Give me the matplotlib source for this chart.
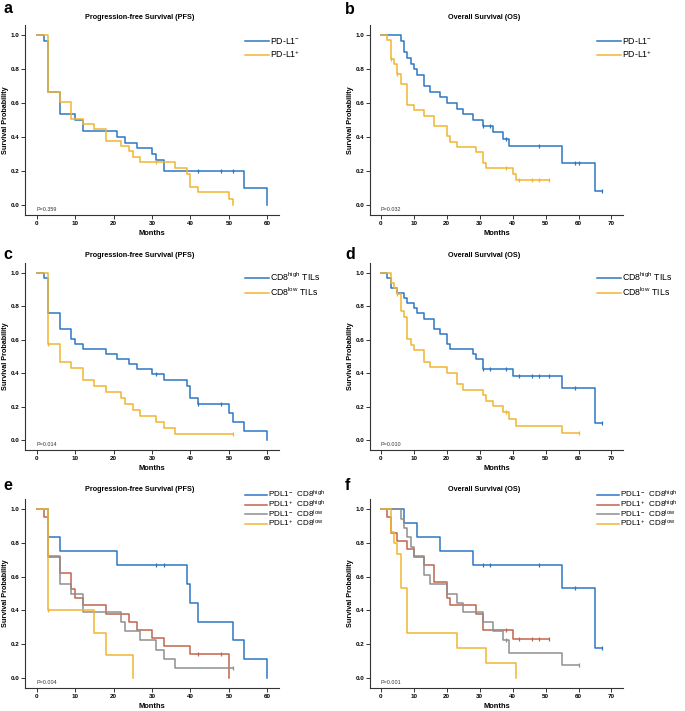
import numpy as np
import matplotlib
matplotlib.use("Agg")
import matplotlib.pyplot as plt

plt.rcParams["font.family"] = ["Liberation Sans", "DejaVu Sans"]
plt.rcParams["mathtext.fontset"] = "custom"
plt.rcParams["mathtext.rm"] = "Liberation Sans"
plt.rcParams["mathtext.it"] = "Liberation Sans:italic"
plt.rcParams["mathtext.bf"] = "Liberation Sans:bold"
plt.rcParams["mathtext.default"] = "regular"

BLUE = "#2c76c2"
ORANGE = "#f0b532"
RED = "#c1644c"
GRAY = "#8f8f8f"

# ---- a: PFS by PD-L1 ----
a_neg_t = [2, 3, 6, 10, 12, 21, 23, 26, 30, 31, 33, 54, 60]
a_neg_s = [0.967, 0.667, 0.533, 0.5, 0.433, 0.4, 0.367, 0.333, 0.3, 0.267, 0.2, 0.1, 0.0]
a_neg_c = [42, 48, 51]
a_neg_end = 60
a_pos_t = [3, 6, 9, 12, 15, 18, 22, 24, 25, 27, 36, 39, 40, 42, 50, 51]
a_pos_s = [0.667, 0.604, 0.506, 0.475, 0.445, 0.378, 0.347, 0.32, 0.284, 0.251, 0.216, 0.18, 0.108, 0.073, 0.035, 0.0]
a_pos_c = [31]
a_pos_end = 51

# ---- b: OS by PD-L1 ----
b_neg_t = [6, 7, 8, 9, 10, 11, 13, 15, 18, 20, 23, 25, 28, 31, 34, 37, 39, 55, 65]
b_neg_s = [0.967, 0.9, 0.867, 0.833, 0.8, 0.767, 0.7, 0.667, 0.633, 0.6, 0.567, 0.533, 0.5, 0.467, 0.428, 0.389, 0.346, 0.247, 0.082]
b_neg_c = [31, 33, 38, 48, 59, 60, 67]
b_neg_end = 67
b_pos_t = [2, 3, 4, 5, 6, 8, 10, 13, 16, 20, 21, 23, 29, 31, 32, 40, 41]
b_pos_s = [0.971, 0.857, 0.829, 0.771, 0.714, 0.588, 0.559, 0.525, 0.465, 0.404, 0.37, 0.343, 0.31, 0.247, 0.216, 0.18, 0.145]
b_pos_c = [3, 5, 38, 42, 46, 48, 51]
b_pos_end = 51

# ---- c: PFS by CD8 ----
c_hi_t = [2, 3, 6, 9, 10, 12, 18, 21, 24, 26, 30, 33, 39, 40, 42, 50, 51, 54, 60]
c_hi_s = [0.97, 0.758, 0.667, 0.606, 0.576, 0.545, 0.515, 0.485, 0.455, 0.424, 0.394, 0.362, 0.326, 0.253, 0.217, 0.163, 0.108, 0.054, 0.0]
c_hi_c = [31, 42, 48]
c_hi_end = 60
c_lo_t = [3, 6, 9, 12, 15, 18, 22, 23, 25, 27, 31, 33, 36]
c_lo_s = [0.576, 0.47, 0.432, 0.362, 0.325, 0.289, 0.253, 0.217, 0.18, 0.144, 0.108, 0.072, 0.036]
c_lo_c = [3, 51]
c_lo_end = 51

# ---- d: OS by CD8 ----
d_hi_t = [2, 3, 5, 7, 8, 10, 11, 13, 16, 18, 20, 21, 28, 29, 31, 40, 55, 65]
d_hi_s = [0.97, 0.909, 0.879, 0.848, 0.818, 0.788, 0.758, 0.727, 0.667, 0.636, 0.576, 0.545, 0.515, 0.485, 0.424, 0.386, 0.309, 0.103]
d_hi_c = [31, 33, 38, 42, 46, 48, 51, 59, 67]
d_hi_end = 67
d_lo_t = [3, 4, 5, 6, 7, 8, 9, 10, 13, 15, 20, 23, 25, 31, 32, 34, 37, 39, 41, 55]
d_lo_s = [0.941, 0.912, 0.876, 0.773, 0.739, 0.604, 0.571, 0.537, 0.47, 0.436, 0.403, 0.336, 0.302, 0.269, 0.235, 0.201, 0.168, 0.126, 0.084, 0.042]
d_lo_c = [5, 38, 60]
d_lo_end = 60

# ---- e: PFS by PD-L1 / CD8 combination ----
e_nh_t = [3, 6, 21, 39, 40, 42, 51, 54, 60]
e_nh_s = [0.833, 0.75, 0.667, 0.556, 0.444, 0.333, 0.222, 0.111, 0.0]
e_nh_c = [31, 33]
e_nh_end = 60
e_ph_t = [2, 3, 6, 9, 10, 12, 18, 24, 26, 30, 33, 40, 50]
e_ph_s = [0.952, 0.714, 0.619, 0.524, 0.476, 0.429, 0.381, 0.333, 0.286, 0.238, 0.19, 0.143, 0.0]
e_ph_c = [42, 48]
e_ph_end = 50
e_nl_t = [3, 6, 9, 12, 22, 23, 27, 31, 33, 36]
e_nl_s = [0.722, 0.556, 0.5, 0.389, 0.333, 0.278, 0.222, 0.167, 0.111, 0.056]
e_nl_c = [51]
e_nl_end = 51
e_pl_t = [3, 15, 18, 25]
e_pl_s = [0.4, 0.267, 0.133, 0.0]
e_pl_c = [3]
e_pl_end = 25

# ---- f: OS by PD-L1 / CD8 combination ----
f_nh_t = [7, 11, 18, 28, 55, 65]
f_nh_s = [0.917, 0.833, 0.75, 0.667, 0.533, 0.178]
f_nh_c = [31, 33, 48, 59, 67]
f_nh_end = 67
f_ph_t = [2, 3, 5, 8, 10, 13, 16, 20, 21, 29, 31, 40]
f_ph_s = [0.952, 0.857, 0.81, 0.762, 0.714, 0.667, 0.571, 0.476, 0.429, 0.381, 0.286, 0.229]
f_ph_c = [38, 42, 46, 48, 51]
f_ph_end = 51
f_nl_t = [6, 7, 8, 9, 10, 13, 15, 20, 23, 25, 31, 34, 37, 39, 55]
f_nl_s = [0.944, 0.889, 0.833, 0.778, 0.722, 0.611, 0.556, 0.5, 0.444, 0.389, 0.333, 0.278, 0.222, 0.148, 0.074]
f_nl_c = [38, 60]
f_nl_end = 60
f_pl_t = [3, 4, 5, 6, 8, 23, 32, 41]
f_pl_s = [0.867, 0.8, 0.733, 0.533, 0.267, 0.178, 0.089, 0.0]
f_pl_c = []
f_pl_end = 41

pd_labels = [r"PD-L1$^{-}$", r"PD-L1$^{+}$"]
cd8_labels = [r"CD8$^{high}$ TILs", r"CD8$^{low}$ TILs"]
combo_labels = [r"PDL1$^{-}$  CD8$^{high}$", r"PDL1$^{+}$  CD8$^{high}$",
                r"PDL1$^{-}$  CD8$^{low}$", r"PDL1$^{+}$  CD8$^{low}$"]
p_values = ["P=0.359", "P=0.032", "P=0.014", "P=0.010", "P=0.004", "P=0.001"]

W, H = 685, 711


def px_rect(l, t, r, b):
    return [l / W, 1 - b / H, (r - l) / W, (b - t) / H]


def km(ax, t, s, cens, end, color, label):
    x = [0] + list(t) + [end]
    y = [1.0] + list(s) + [s[-1]]
    ax.step(x, y, where="post", color=color, lw=1.1, label=label)
    if len(cens):
        idx = np.searchsorted(t, cens, side="right") - 1
        cy = [s[i] if i >= 0 else 1.0 for i in idx]
        ax.plot(cens, cy, ls="none", marker="|", ms=3.4, mew=0.9, color=color)


def style(ax, title, xmax, pval, title_y=1.02, xpad=3.5):
    ax.set_xlim(-3, 63) if xmax == 60 else ax.set_xlim(-3.3, 73.5)
    ax.set_ylim(-0.06, 1.06)
    ax.set_xticks(np.arange(0, xmax + 1, 10))
    ax.set_yticks(np.arange(0, 1.01, 0.2))
    ax.yaxis.set_major_formatter(plt.FormatStrFormatter("%.1f"))
    for sp in ["top", "right"]:
        ax.spines[sp].set_visible(False)
    for sp in ["left", "bottom"]:
        ax.spines[sp].set_linewidth(0.8)
        ax.spines[sp].set_color("#333333")
    ax.tick_params(length=3, width=0.7, pad=1, labelsize=4.5, color="#333333")
    plt.setp(ax.get_xticklabels() + ax.get_yticklabels(), fontweight="bold")
    ax.text(0.45, title_y, title, transform=ax.transAxes, ha="center", va="bottom",
            fontsize=5.2, fontweight="bold")
    ax.set_xlabel("Months", fontsize=5.4, fontweight="bold", labelpad=xpad)
    ax.set_ylabel("Survival Probability", fontsize=5.2, fontweight="bold")
    ax.yaxis.set_label_coords(-0.064, 0.5)
    ax.text(0, -0.025, pval, fontsize=3.9, va="center", color="#333333")


def legend(ax, x_px, y_px, fs, spacing):
    ax.legend(loc="upper left", bbox_to_anchor=(x_px / W, 1 - y_px / H),
              bbox_transform=fig.transFigure, frameon=False, fontsize=fs,
              handlelength=2.7, handletextpad=0.15, borderpad=0, borderaxespad=0,
              labelspacing=spacing)


fig = plt.figure(figsize=(6.85, 7.11), dpi=100)

ax_a = fig.add_axes(px_rect(25, 25, 279, 215))
km(ax_a, a_neg_t, a_neg_s, a_neg_c, a_neg_end, BLUE, pd_labels[0])
km(ax_a, a_pos_t, a_pos_s, a_pos_c, a_pos_end, ORANGE, pd_labels[1])
style(ax_a, "Progression-free Survival (PFS)", 60, p_values[0])
legend(ax_a, 245, 36, 6.3, 0.25)

ax_b = fig.add_axes(px_rect(370, 25, 623, 215))
km(ax_b, b_neg_t, b_neg_s, b_neg_c, b_neg_end, BLUE, pd_labels[0])
km(ax_b, b_pos_t, b_pos_s, b_pos_c, b_pos_end, ORANGE, pd_labels[1])
style(ax_b, "Overall Survival (OS)", 70, p_values[1])
legend(ax_b, 597, 36, 6.3, 0.25)

ax_c = fig.add_axes(px_rect(25, 263, 279, 450))
km(ax_c, c_hi_t, c_hi_s, c_hi_c, c_hi_end, BLUE, cd8_labels[0])
km(ax_c, c_lo_t, c_lo_s, c_lo_c, c_lo_end, ORANGE, cd8_labels[1])
style(ax_c, "Progression-free Survival (PFS)", 60, p_values[2])
legend(ax_c, 245, 271, 6.3, 0.25)

ax_d = fig.add_axes(px_rect(370, 263, 623, 450))
km(ax_d, d_hi_t, d_hi_s, d_hi_c, d_hi_end, BLUE, cd8_labels[0])
km(ax_d, d_lo_t, d_lo_s, d_lo_c, d_lo_end, ORANGE, cd8_labels[1])
style(ax_d, "Overall Survival (OS)", 70, p_values[3])
legend(ax_d, 597, 271, 6.3, 0.25)

ax_e = fig.add_axes(px_rect(25, 499, 279, 688))
km(ax_e, e_nh_t, e_nh_s, e_nh_c, e_nh_end, BLUE, combo_labels[0])
km(ax_e, e_ph_t, e_ph_s, e_ph_c, e_ph_end, RED, combo_labels[1])
km(ax_e, e_nl_t, e_nl_s, e_nl_c, e_nl_end, GRAY, combo_labels[2])
km(ax_e, e_pl_t, e_pl_s, e_pl_c, e_pl_end, ORANGE, combo_labels[3])
style(ax_e, "Progression-free Survival (PFS)", 60, p_values[4], title_y=1.03, xpad=3)
legend(ax_e, 245, 489, 5.9, -0.2)

ax_f = fig.add_axes(px_rect(370, 499, 623, 688))
km(ax_f, f_nh_t, f_nh_s, f_nh_c, f_nh_end, BLUE, combo_labels[0])
km(ax_f, f_ph_t, f_ph_s, f_ph_c, f_ph_end, RED, combo_labels[1])
km(ax_f, f_nl_t, f_nl_s, f_nl_c, f_nl_end, GRAY, combo_labels[2])
km(ax_f, f_pl_t, f_pl_s, f_pl_c, f_pl_end, ORANGE, combo_labels[3])
style(ax_f, "Overall Survival (OS)", 70, p_values[5], title_y=1.03, xpad=3)
legend(ax_f, 597, 489, 5.9, -0.2)

for letter, x_px, y_px in [("a", 3, 13), ("b", 345, 14), ("c", 3, 259),
                           ("d", 345, 259), ("e", 3, 490), ("f", 345, 490)]:
    fig.text(x_px / W, 1 - y_px / H, letter, fontsize=11.5, fontweight="bold",
             va="baseline")

fig.savefig("out.png", dpi=100)
